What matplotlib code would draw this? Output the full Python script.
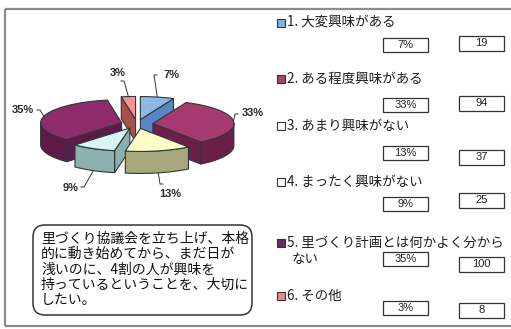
import numpy as np
import matplotlib
matplotlib.use("Agg")
import matplotlib.pyplot as plt
from matplotlib.patches import Polygon, Rectangle, FancyBboxPatch

plt.rcParams['font.family'] = ['Noto Sans CJK JP', 'DejaVu Sans']

# ---- data ----
categories = [
    "1. 大変興味がある",
    "2. ある程度興味がある",
    "3. あまり興味がない",
    "4. まったく興味がない",
    "5. 里づくり計画とは何かよく分から\nない",
    "6. その他",
]
counts = [19, 94, 37, 25, 100, 8]
top_colors = ["#8fb8e6", "#a53a70", "#fdfdc8", "#d8f2f5", "#8e2b6b", "#f49292"]
side_colors = ["#5a85c4", "#6d1f4a", "#a7a77b", "#8cb0ad", "#5d1a48", "#a9504a"]
legend_colors = ["#80b2e2", "#a8466c", "#ffffff", "#ffffff", "#6b2c5f", "#e98c8c"]
note = ("里づくり協議会を立ち上げ、本格\n的に動き始めてから、まだ日が\n"
        "浅いのに、4割の人が興味を\n持っているということを、大切に\nしたい。")

total = sum(counts)
pcts = [round(c / total * 100) for c in counts]

# ---- canvas in pixel units ----
W, H = 511, 329
fig = plt.figure(figsize=(W / 100, H / 100), dpi=100)
ax = fig.add_axes([0, 0, 1, 1])
ax.set_xlim(0, W)
ax.set_ylim(H, 0)
ax.axis('off')

# outer frame
frame_kw = dict(color="#8c8c8c", lw=1.6, solid_capstyle='butt')
ax.plot([5, 5], [9, 326], **frame_kw)
ax.plot([5, W], [9, 9], **frame_kw)
ax.plot([5, W], [326, 326], **frame_kw)

# ---- 3D exploded pie ----
CX, CY, RX, RY, DEPTH, EXPLODE = 137, 124, 81, 23, 22, 16
EDGE = "#2c3838"


def rim(theta, dx, dy, down=0.0):
    t = np.radians(theta)
    return np.column_stack([CX + dx + RX * np.sin(t), CY + dy - RY * np.cos(t) + down])


bounds = np.concatenate([[0], np.cumsum(counts) / total * 360])
slices = []
for i in range(len(counts)):
    a1, a2 = bounds[i], bounds[i + 1]
    mid = (a1 + a2) / 2
    dx = EXPLODE * np.sin(np.radians(mid))
    dy = -EXPLODE * np.cos(np.radians(mid)) * RY / RX
    depth_key = CY + dy - 0.5 * RY * np.cos(np.radians(mid))
    slices.append((depth_key, i, a1, a2, mid, dx, dy))

anchors = {}
for _, i, a1, a2, mid, dx, dy in sorted(slices):
    centre = np.array([CX + dx, CY + dy])
    lo = dict(fc=side_colors[i], ec=EDGE, lw=0.8, joinstyle='round')
    # radial walls facing the viewer
    for ang, visible in ((a1, np.sin(np.radians(a1)) < 0), (a2, np.sin(np.radians(a2)) > 0)):
        if visible:
            p = rim([ang], dx, dy)[0]
            ax.add_patch(Polygon([centre, p, p + [0, DEPTH], centre + [0, DEPTH]], **lo))
    # curved outer wall (front half only)
    s, e = max(a1, 90), min(a2, 270)
    if e > s:
        th = np.linspace(s, e, 60)
        ax.add_patch(Polygon(np.vstack([rim(th, dx, dy), rim(th[::-1], dx, dy, DEPTH)]), **lo))
    # top face
    th = np.linspace(a1, a2, 80)
    ax.add_patch(Polygon(np.vstack([centre, rim(th, dx, dy)]),
                         fc=top_colors[i], ec=EDGE, lw=0.8, joinstyle='round'))
    tip = rim([mid], dx, dy)[0]
    if np.cos(np.radians(mid)) < 0:
        tip = tip + [0, DEPTH]
    anchors[i] = tip

# slice labels with leader lines
label_pos = [(171, 75), (253, 113), (170, 194), (71, 188), (23, 110), (118, 73)]
label_side = [(-14, 0), (-15, 1), (-7, -10), (10, -1), (14, 0), (3, 8)]
for i, (lx, ly) in enumerate(label_pos):
    ax.text(lx, ly, f"{pcts[i]}%", ha='center', va='center', fontsize=8,
            fontweight='bold', color="#2a2a2a", family=['Liberation Sans', 'DejaVu Sans'])
    sx, sy = lx + label_side[i][0], ly + label_side[i][1]
    ax_, ay_ = anchors[i]
    ax.plot([sx, sx + np.sign(label_side[i][0]) * 3 if label_side[i][0] else sx, ax_],
            [sy, sy, ay_], color="#333333", lw=0.7)

# ---- legend with value boxes ----
row_y = [23, 79, 126, 182, 243, 296]
pct_box_y = [45, 105, 153, 204, 259, 308]
cnt_box_y = [43, 103, 157, 200, 264, 310]
for i, label in enumerate(categories):
    ax.add_patch(Rectangle((277, row_y[i] - 4), 8, 8, fc=legend_colors[i],
                           ec="#333333", lw=0.8))
    for k, line in enumerate(label.split("\n")):
        ax.text(287 if k == 0 else 292, row_y[i] + 16 * k, line, ha='left', va='center',
                fontsize=9.7, color="#1e1e1e")
    ax.add_patch(Rectangle((383, pct_box_y[i] - 7), 45, 14, fc='white', ec="#333333", lw=0.9))
    ax.text(405.5, pct_box_y[i], f"{pcts[i]}%", ha='center', va='center', fontsize=8,
            color="#222222", family=['Liberation Sans', 'DejaVu Sans'])
    ax.add_patch(Rectangle((459, cnt_box_y[i] - 7.5), 45, 15, fc='white', ec="#333333", lw=0.9))
    ax.text(481.5, cnt_box_y[i], f"{counts[i]}", ha='center', va='center', fontsize=8,
            color="#222222", family=['Liberation Sans', 'DejaVu Sans'])

# ---- comment box ----
ax.add_patch(FancyBboxPatch((33, 225), 219, 90, boxstyle="round,pad=0,rounding_size=12",
                            fc='white', ec="#333333", lw=1.1))
ax.text(41, 232, note, ha='left', va='top', fontsize=10, color="#111111", linespacing=1.12)

fig.savefig("out.png", dpi=100)
